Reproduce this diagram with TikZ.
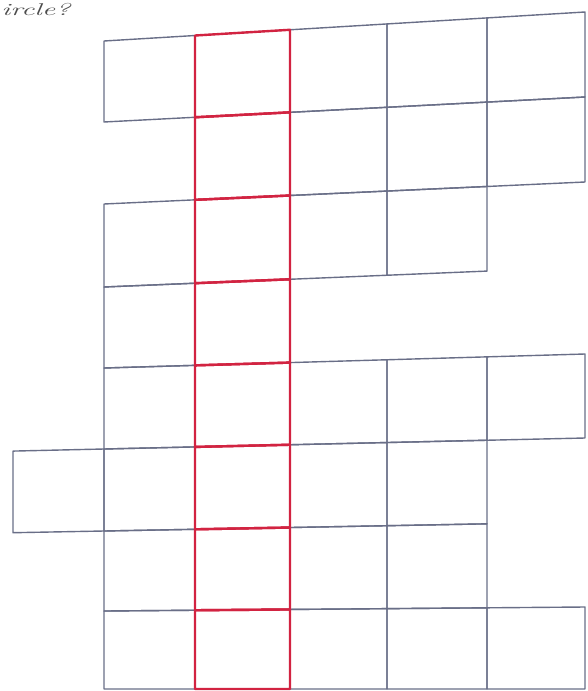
\documentclass[tikz,border=0pt]{standalone}
\usepackage{tikz}

\definecolor{inkgray}{RGB}{105,110,135}
\definecolor{inkred}{RGB}{210,35,65}

\begin{document}
\begin{tikzpicture}[x=1pt,y=-1pt,line join=round,
  cellline/.style={draw=inkgray,line width=1.4pt},
  redline/.style={draw=inkred,line width=2.4pt}]
  \useasboundingbox (0,0) rectangle (587,691);
  % scanned question text, cut at the edge
  \node[anchor=base west,inner sep=0pt,xscale=1.75,text=black!70]
    (caption) at (1,15) {\fontsize{17}{17}\selectfont\itshape ircle?};
  % grid points: line j runs from y=yl (left) to y=yr (right)
  \foreach \j/\yl/\yr in {0/41/12,1/122/97,2/204/182,3/287/267,
                         4/368/354,5/449/438,6/531/522,7/611/607,8/689/689}{
    \foreach \i/\x in {0/13,1/104,2/195,3/290,4/387,5/487,6/585}{
      \coordinate (p\i-\j) at (\x,{\yl+(\yr-\yl)*(\x-104)/481});
    }
  }
  % cells of the net (row / columns)
  \foreach \r/\cols in {1/{1,2,3,4,5},2/{2,3,4,5},3/{1,2,3,4},4/{1,2},
                        5/{1,2,3,4,5},6/{0,1,2,3,4},7/{1,2,3,4},8/{1,2,3,4,5}}{
    \pgfmathtruncatemacro\q{\r-1}
    \foreach \c in \cols {
      \pgfmathtruncatemacro\d{\c+1}
      \draw[cellline] (p\c-\q) -- (p\d-\q) -- (p\d-\r) -- (p\c-\r) -- cycle;
    }
  }
  % red column
  \foreach \r in {1,...,8}{
    \pgfmathtruncatemacro\q{\r-1}
    \draw[redline] (p2-\q) -- (p3-\q) -- (p3-\r) -- (p2-\r) -- cycle;
  }
\end{tikzpicture}
\end{document}
